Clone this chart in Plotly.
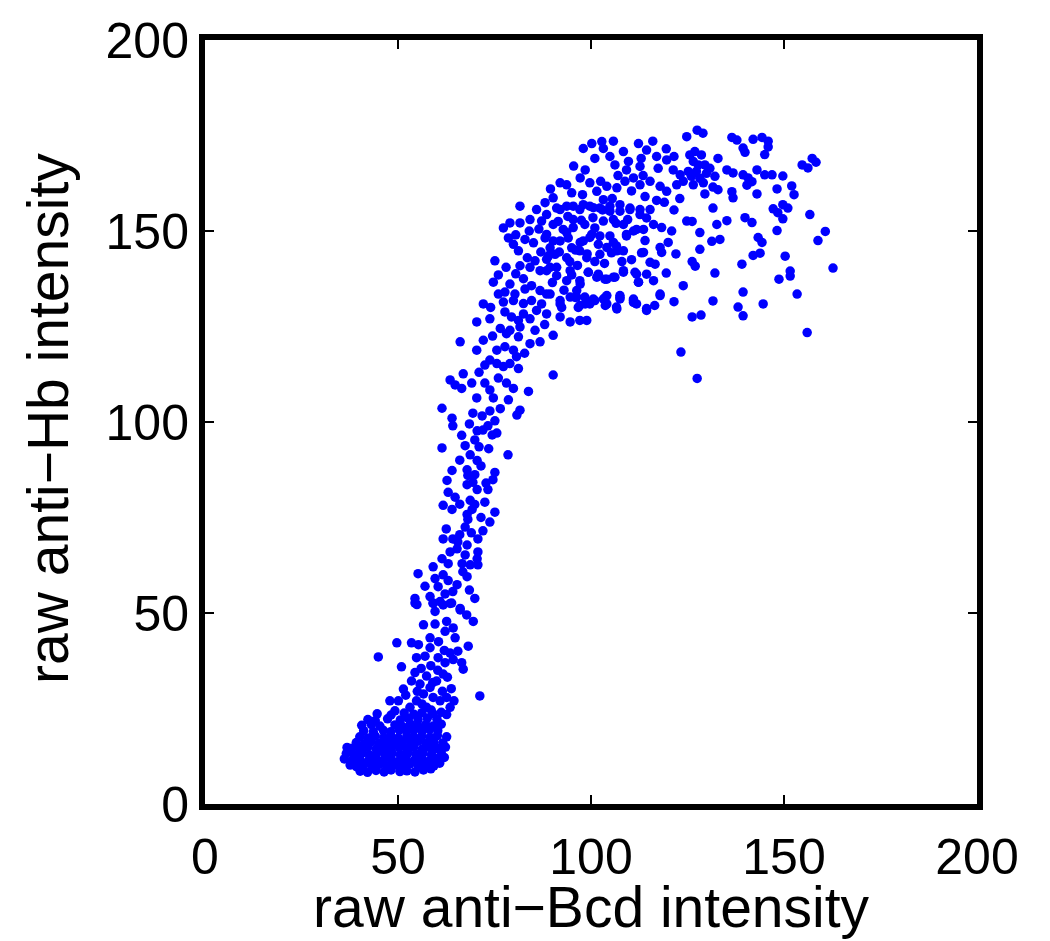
import plotly.graph_objects as go

# Data values (raw anti-Bcd, raw anti-Hb)
base_cluster = [
    (40.2, 8.6), (42.1, 8.3), (44.3, 8.8), (46.4, 8.4), (48.2, 8.9), (50.5, 8.5), (52.3, 8.7), (54.4, 8.4), (56.6, 8.9), (58.5, 9.2),
    (37.6, 10.2), (39.2, 9.8), (41.2, 10.3), (43.3, 9.9), (45.2, 10.4), (47.1, 10.0), (49.3, 10.3), (51.2, 9.9), (53.1, 10.5), (55.2, 10.1), (57.3, 10.4), (59.3, 10.0), (60.8, 10.7),
    (36.1, 11.8), (38.2, 11.4), (40.1, 11.7), (42.3, 11.3), (44.2, 11.8), (46.1, 11.4), (48.3, 11.6), (50.2, 11.2), (52.1, 11.9), (54.3, 11.5), (56.2, 11.7), (58.1, 11.3), (60.2, 11.9), (62.0, 12.2),
    (36.6, 13.2), (38.6, 12.9), (40.7, 13.3), (42.6, 12.8), (44.6, 13.4), (46.7, 13.0), (48.5, 13.3), (50.6, 12.9), (52.6, 13.4), (54.7, 13.1), (56.5, 13.3), (58.7, 12.9), (61.2, 13.4),
    (36.8, 14.8), (38.1, 14.6), (40.2, 14.3), (42.1, 14.8), (44.3, 14.4), (46.2, 14.7), (48.1, 14.3), (50.3, 14.8), (52.2, 14.5), (54.1, 14.9), (56.3, 14.4), (58.2, 14.8), (60.1, 14.5), (62.3, 14.9),
    (39.2, 16.1), (41.3, 15.8), (43.1, 16.3), (45.2, 15.9), (47.3, 16.2), (49.1, 15.8), (51.2, 16.3), (53.3, 16.0), (55.1, 16.4), (57.2, 15.9), (59.3, 16.2), (61.6, 16.0),
    (40.1, 17.6), (42.2, 17.3), (44.1, 17.8), (46.3, 17.4), (48.2, 17.7), (50.1, 17.3), (52.3, 17.8), (54.2, 17.4), (56.1, 17.7), (58.3, 17.5), (60.2, 17.9), (62.6, 17.6),
    (41.1, 19.2), (43.6, 18.9), (46.2, 19.3), (48.1, 18.9), (50.3, 19.4), (52.2, 19.0), (54.1, 19.3), (56.3, 19.1), (58.2, 19.5), (60.3, 19.2),
    (40.6, 20.6), (43.1, 20.8), (45.3, 20.4), (49.2, 20.7), (51.1, 20.3), (53.2, 20.9), (55.1, 20.5), (57.2, 20.8), (59.1, 20.4), (61.2, 20.9),
    (42.2, 22.1), (44.1, 21.8), (47.3, 22.3), (50.6, 22.0), (52.7, 22.4), (55.2, 22.1), (57.6, 22.5), (60.1, 22.2),
    (44.6, 23.6), (48.2, 23.3), (51.6, 23.8), (54.1, 23.5), (56.2, 23.9), (59.1, 23.6), (62.6, 23.4),
]

lower_band = [
    (54.4, 52.6), (59.1, 52.6), (61.7, 52.1), (63.9, 52.6), (66.1, 50.8), (67.8, 49.5), (69.5, 47.8), (59.6, 50.4), (62.6, 47.8), (64.3, 46.1),
    (56.6, 46.9), (59.6, 47.1), (62.2, 45.2), (64.8, 43.5), (58.3, 43.5), (49.7, 42.2), (53.5, 42.2), (55.3, 41.7), (58.3, 40.9), (57.0, 38.7),
    (54.8, 38.3), (60.4, 38.3), (62.2, 37.0), (64.3, 37.8), (66.5, 37.0), (66.9, 35.3), (68.2, 41.3), (44.9, 38.5), (50.9, 35.9),
    (54.4, 34.4), (57.4, 33.5), (53.5, 32.2), (55.7, 31.4), (58.3, 30.5), (60.0, 32.2), (61.7, 34.0), (51.4, 30.1), (56.6, 28.8), (59.1, 27.9),
    (54.8, 27.0), (53.1, 25.3), (57.4, 25.3), (60.9, 27.0), (62.6, 27.9), (63.5, 25.3), (50.1, 27.0), (47.9, 27.0), (71.2, 28.3), (49.2, 24.4),
    (56.0, 35.5), (58.5, 36.2), (60.3, 35.0), (62.8, 33.2), (59.0, 31.8), (61.5, 29.5), (63.8, 30.2), (56.2, 26.2), (58.6, 24.6), (61.2, 24.0),
    (64.5, 27.0), (55.0, 29.5), (52.0, 28.5), (62.0, 40.2), (60.5, 42.5), (63.5, 39.5), (65.5, 40.0),
]

rising_band = [
    (61.4, 103.6), (64.0, 101.0), (64.2, 99.0), (69.4, 102.3), (71.8, 101.6), (73.8, 102.9), (75.1, 100.3), (73.3, 99.0), (75.6, 97.1), (70.5, 97.7),
    (69.9, 95.3), (72.0, 97.9), (74.4, 96.6), (80.8, 101.8), (81.6, 103.1), (61.4, 93.2), (67.4, 93.8), (68.7, 91.4), (70.5, 89.9), (78.5, 91.4),
    (64.0, 87.3), (62.7, 84.7), (67.9, 87.5), (68.1, 86.0), (69.9, 86.2), (69.4, 84.2), (67.9, 83.6), (70.5, 82.3), (73.3, 82.3), (75.1, 86.8),
    (74.6, 84.9), (63.0, 81.6), (64.8, 80.3), (61.7, 78.2), (64.0, 77.1), (68.7, 79.5), (69.9, 78.4), (69.2, 77.1), (72.5, 79.0), (75.1, 76.4),
    (67.9, 75.8), (68.1, 74.5), (73.8, 73.8), (67.4, 72.5), (61.7, 69.4), (64.2, 69.4), (65.5, 68.6), (67.9, 67.8), (70.7, 69.4), (63.5, 66.0),
    (65.3, 66.8), (67.4, 65.2), (70.7, 66.0), (70.5, 64.2), (61.4, 64.2), (63.0, 62.9), (66.6, 62.9), (68.7, 62.6), (70.7, 62.6), (59.1, 62.1),
    (55.2, 60.3), (59.6, 59.0), (61.7, 60.0), (60.4, 56.9), (65.3, 57.4), (67.9, 59.5), (66.8, 60.8), (64.2, 55.6), (69.9, 53.8), (54.4, 53.8),
    (58.3, 54.3), (59.1, 52.5), (60.9, 53.0), (63.5, 52.5), (66.1, 51.2), (54.9, 52.2),
    (66.1, 121.0), (66.9, 112.6), (63.5, 111.0), (64.8, 109.7), (66.5, 108.8),
    (62.5, 72.0), (66.0, 70.5), (69.0, 71.0), (72.0, 71.5), (71.5, 75.0), (66.0, 78.5), (72.8, 84.0), (71.5, 88.5), (66.0, 90.0), (73.5, 93.0),
    (71.0, 93.5), (66.5, 96.5), (68.5, 99.5), (76.5, 103.5), (63.0, 58.5), (68.5, 56.0), (57.0, 57.0), (62.2, 55.0),
]

shoulder = [
    (81.6, 156.5), (85.9, 155.6), (88.5, 154.3), (91.1, 156.0), (93.7, 156.5), (97.1, 155.6), (99.7, 156.5), (102.3, 156.0), (104.9, 156.5), (107.5, 155.2),
    (110.1, 156.0), (112.7, 155.6), (114.4, 153.4), (77.3, 150.8), (79.0, 152.1), (81.6, 152.1), (84.2, 153.0), (87.2, 152.6), (90.2, 151.7), (92.8, 150.4),
    (95.4, 153.0), (98.4, 151.7), (101.0, 150.8), (103.2, 152.6), (105.8, 153.0), (108.4, 151.7), (111.0, 150.0), (113.6, 150.4), (78.6, 148.2), (79.9, 146.5),
    (82.9, 147.8), (85.1, 146.9), (88.1, 148.2), (89.4, 145.6), (92.0, 147.4), (94.1, 148.2), (95.0, 145.6), (98.0, 147.4), (100.2, 149.1), (101.9, 146.5),
    (104.9, 148.7), (106.6, 146.1), (109.2, 148.7), (113.1, 144.3), (75.1, 142.2), (81.2, 144.8), (81.6, 140.9), (85.5, 142.2), (88.5, 142.6), (90.7, 143.9),
    (93.7, 143.0), (97.1, 144.8), (98.9, 143.0), (102.3, 143.9), (105.3, 144.3), (108.4, 144.8), (74.7, 136.6), (79.0, 136.1), (84.2, 140.5), (86.8, 139.6),
    (89.4, 140.5), (91.1, 138.3), (94.6, 139.6), (97.1, 137.0), (99.3, 139.2), (101.9, 138.7), (103.6, 137.4), (106.2, 137.9), (108.4, 139.2), (111.4, 139.2),
    (112.3, 136.6), (114.4, 138.7), (72.1, 130.9), (76.0, 133.5), (77.7, 134.0), (80.3, 133.5), (77.3, 131.4), (79.9, 131.8), (82.9, 134.8), (84.6, 135.7),
    (86.8, 134.4), (89.4, 133.5), (84.6, 131.8), (87.2, 130.9), (92.0, 130.9), (94.6, 132.7), (96.3, 134.4), (98.4, 132.7), (101.0, 131.8), (104.1, 133.1),
    (107.5, 132.2), (111.0, 131.8), (114.4, 129.2), (106.6, 130.1), (104.1, 130.9), (99.7, 130.9), (97.1, 130.5), (70.4, 126.2), (73.8, 127.0), (77.7, 128.8),
    (79.4, 127.5), (81.2, 126.6), (82.5, 128.3), (84.2, 127.0), (85.9, 129.2), (88.5, 128.3), (92.0, 127.5), (94.6, 126.2), (97.1, 126.6), (98.9, 126.6),
    (79.0, 124.0), (81.6, 124.9), (78.1, 123.1), (81.2, 122.3), (84.2, 120.5), (86.8, 121.0), (90.2, 122.7), (72.1, 121.4), (70.4, 118.8), (75.6, 118.8),
    (77.7, 119.7), (79.9, 118.8), (80.7, 117.1), (73.8, 116.2), (72.5, 114.9), (75.6, 115.3), (77.3, 114.5), (79.0, 115.3), (81.2, 114.0), (90.2, 112.3),
    (69.1, 110.2), (72.5, 110.2), (73.8, 108.4), (78.1, 110.2), (79.9, 108.8), (83.8, 108.0), (70.4, 106.3), (74.7, 106.3), (78.6, 105.8),
    (92.4, 130.0), (96.7, 130.0), (98.5, 130.9), (100.6, 132.2), (103.7, 132.6), (103.7, 130.5), (95.9, 132.6),
    (106.7, 129.6), (111.0, 131.3), (117.9, 133.1), (107.5, 132.6), (123.3, 118.3),
    (76.0, 138.5), (80.5, 138.8), (82.5, 137.5), (78.0, 140.5), (83.5, 143.0), (87.0, 144.5), (84.0, 150.0), (80.5, 149.0), (86.5, 150.5), (76.5, 124.5),
    (74.5, 122.5), (82.8, 118.0), (85.5, 124.0), (88.0, 125.5), (76.0, 111.5), (71.0, 113.0), (74.0, 130.0), (82.5, 131.0),
]

plateau_core = [
    (98.0, 171.6), (100.2, 172.9), (102.8, 173.4), (105.8, 173.5), (103.2, 171.6), (108.4, 170.8), (112.3, 172.9), (114.4, 171.2), (124.8, 174.7), (101.0, 169.0),
    (104.9, 169.5), (106.2, 167.3), (109.7, 168.2), (109.2, 166.0), (112.7, 166.9), (117.0, 169.5), (119.6, 168.6), (117.4, 166.4), (121.3, 166.0), (123.1, 164.7),
    (125.2, 165.6), (92.0, 162.6), (93.7, 162.1), (97.2, 163.9), (99.7, 162.6), (101.5, 160.4), (104.1, 161.7), (106.7, 161.3), (108.8, 163.0), (111.0, 163.9),
    (112.7, 162.1), (115.3, 163.0), (117.9, 161.7), (119.6, 160.4), (122.2, 162.1), (123.9, 163.0), (88.1, 157.4), (90.2, 158.7), (92.0, 155.6), (95.4, 156.5),
    (98.0, 156.9), (100.6, 156.1), (103.2, 158.2), (104.9, 155.2), (107.5, 156.9), (110.1, 155.6), (112.7, 154.3), (115.3, 155.6), (116.2, 151.7), (118.3, 150.9),
    (120.9, 150.0), (124.8, 152.6), (88.5, 149.1), (90.2, 147.4), (93.7, 149.6), (95.4, 150.9), (97.2, 147.0), (99.7, 148.3), (102.3, 148.7), (104.1, 145.7),
    (105.8, 147.0), (106.7, 144.8), (109.2, 149.1), (111.8, 150.4), (113.6, 144.4), (115.3, 141.8), (116.6, 141.3), (117.9, 145.7), (118.3, 144.4), (88.5, 139.6),
    (91.1, 140.5), (93.7, 137.0), (97.2, 136.1), (99.3, 139.2), (101.5, 137.9), (104.1, 137.4), (105.8, 137.9), (108.4, 139.6), (111.8, 138.7), (112.3, 136.6),
    (116.2, 137.0), (117.9, 133.5), (123.9, 135.7), (88.5, 133.5), (92.0, 131.8), (96.3, 132.7), (99.7, 131.4), (103.2, 132.2), (107.5, 133.1), (111.0, 132.2),
    (111.8, 130.9), (114.4, 129.7),
    (89.5, 161.0), (95.0, 160.0), (97.8, 159.5), (102.5, 163.0), (105.5, 158.5), (110.5, 160.5), (114.0, 159.0), (91.5, 152.5), (94.0, 153.8), (97.5, 152.8),
    (100.5, 153.5), (103.0, 155.5), (106.5, 152.0), (109.5, 153.0), (96.0, 145.0), (99.0, 144.0), (101.0, 142.0), (103.5, 141.5), (91.8, 144.5), (94.5, 142.0),
    (89.0, 143.5), (96.5, 141.0), (110.5, 142.5), (108.0, 142.0), (93.0, 134.5), (90.0, 136.5), (95.0, 138.5),
    (95.5, 167.0), (98.5, 166.0), (113.0, 169.0), (116.0, 173.5), (119.5, 171.5), (121.5, 169.5), (107.0, 164.5), (113.5, 164.5), (119.0, 157.5), (121.5, 155.5),
    (117.0, 158.0), (123.0, 158.5), (120.0, 147.0), (122.0, 144.0), (114.0, 147.5), (119.5, 139.0), (121.5, 131.5), (116.5, 130.5),
]

plateau_right = [
    (127.5, 176.4), (129.0, 175.6), (136.5, 174.5), (137.8, 173.8), (139.4, 171.7), (139.9, 170.6), (142.0, 174.0), (144.3, 174.5), (145.9, 173.5), (145.9, 172.0),
    (145.0, 170.0), (154.7, 167.3), (156.2, 166.5), (157.3, 169.0), (158.3, 168.0), (132.9, 169.0), (135.2, 166.0), (136.8, 165.2), (139.4, 164.7), (140.7, 163.9),
    (141.7, 162.9), (140.4, 162.0), (143.0, 166.0), (145.0, 164.7), (146.9, 164.7), (149.7, 164.4), (152.0, 161.8), (152.6, 159.5), (148.2, 161.0), (143.0, 159.7),
    (136.5, 160.3), (136.8, 158.7), (129.5, 159.7), (131.6, 161.5), (132.9, 160.8), (131.6, 156.0), (147.2, 155.8), (148.4, 154.8), (149.7, 156.9), (151.0, 156.0),
    (149.7, 153.2), (148.2, 150.1), (156.7, 154.3), (139.9, 153.5), (141.7, 152.2), (135.2, 152.7), (132.6, 151.7), (126.2, 152.5), (128.2, 149.6), (131.3, 147.3),
    (133.4, 147.8), (143.3, 148.3), (144.3, 147.0), (128.2, 145.2), (126.2, 142.0), (127.0, 140.8), (142.0, 143.6), (143.8, 144.2), (150.3, 143.4), (139.1, 141.3),
    (158.8, 147.5), (160.7, 149.9), (162.7, 140.3), (132.1, 139.0), (151.6, 139.5), (151.6, 138.2), (148.7, 137.4), (153.4, 133.5), (139.4, 134.0), (131.6, 131.7),
    (138.1, 130.1), (139.4, 127.8), (144.6, 130.9), (126.2, 127.5), (128.5, 128.0), (156.0, 123.4), (127.5, 111.4),
    (125.6, 169.9), (126.9, 170.8), (128.6, 169.9), (126.5, 168.2), (127.8, 167.3), (129.5, 167.3), (130.8, 166.4), (127.3, 165.6), (126.0, 164.3), (128.2, 163.8),
    (129.9, 165.1), (132.1, 164.3), (126.5, 162.1), (129.1, 162.6),
]

x_ticks = [0, 50, 100, 150, 200]
y_ticks = [0, 50, 100, 150, 200]
x_label = "raw anti\u2212Bcd intensity"
y_label = "raw anti\u2212Hb intensity"

all_points = base_cluster + lower_band + rising_band + shoulder + plateau_core + plateau_right
bcd = [p[0] for p in all_points]
hb = [p[1] for p in all_points]

FONT = "Liberation Sans, Arial, Helvetica, sans-serif"

fig = go.Figure()
fig.add_trace(go.Scatter(
    x=bcd, y=hb, mode="markers",
    marker=dict(color="#0000FF", size=9.5, line=dict(width=0)),
    showlegend=False, hoverinfo="skip",
))

axis_common = dict(
    showline=True, linewidth=6, linecolor="black", mirror="ticks",
    ticks="inside", ticklen=9, tickwidth=2, tickcolor="black",
    showgrid=False, zeroline=False,
    tickfont=dict(family=FONT, size=50, color="black"),
)

fig.update_xaxes(range=[0, 200], tickvals=x_ticks, ticktext=[str(v) for v in x_ticks],
                 ticklabelstandoff=4, **axis_common)
fig.update_yaxes(range=[0, 200], tickvals=y_ticks, ticktext=[str(v) for v in y_ticks],
                 ticklabelstandoff=0, **axis_common)

fig.add_annotation(text=x_label, xref="paper", yref="paper", x=0.5, y=0,
                   yshift=-103, xanchor="center", yanchor="middle", showarrow=False,
                   font=dict(family=FONT, size=57, color="black"))
fig.add_annotation(text=y_label, xref="paper", yref="paper", x=0, y=0.504,
                   xshift=-157, xanchor="center", yanchor="middle", textangle=-90,
                   showarrow=False, font=dict(family=FONT, size=57, color="black"))

fig.update_layout(
    width=1050, height=941,
    margin=dict(l=205, r=73, t=34, b=137, pad=0),
    paper_bgcolor="white", plot_bgcolor="white",
)

fig.write_html("out.html")
